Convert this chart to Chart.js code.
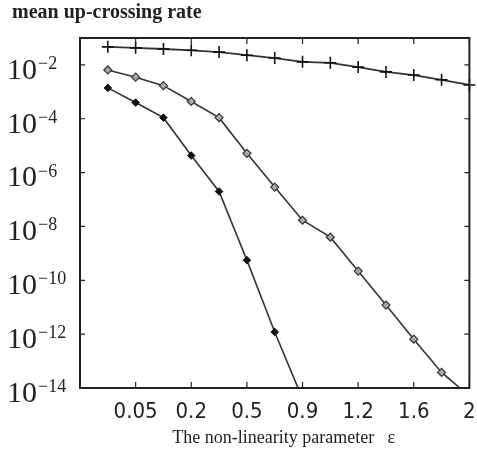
<!DOCTYPE html>
<html>
<head>
<meta charset="utf-8">
<script src="https://cdn.jsdelivr.net/npm/chart.js@4/dist/chart.umd.min.js"></script>
<style>
  html, body { margin: 0; padding: 0; background: #fff; }
  #wrap { width: 477px; height: 453px; }
</style>
</head>
<body>
<div id="wrap"><canvas id="rateChart"></canvas></div>
<script>
// x positions on the (unevenly labelled) epsilon axis, half a tick apart
const xSteps = [0.5, 1, 1.5, 2, 2.5, 3, 3.5, 4, 4.5, 5, 5.5, 6, 6.5, 7];
const xTickLabels = ["0.05", "0.2", "0.5", "0.9", "1.2", "1.6", "2"];
const yTickExponents = [-2, -4, -6, -8, -10, -12, -14];

// mean up-crossing rate
const rateCross = [4.7e-2, 4.3e-2, 3.9e-2, 3.5e-2, 3.0e-2, 2.3e-2, 1.8e-2,
  1.3e-2, 1.2e-2, 8.3e-3, 5.5e-3, 4.2e-3, 2.8e-3, 1.8e-3];
const rateOpen = [6.5e-3, 3.5e-3, 1.7e-3, 4.4e-4, 1.1e-4, 5.2e-6, 2.9e-7,
  1.7e-8, 4.0e-9, 2.2e-10, 1.2e-11, 6.5e-13, 3.8e-14, 5e-15];
const rateFilled = [1.4e-3, 4.0e-4, 1.1e-4, 4.3e-6, 2.0e-7, 5.6e-10, 1.2e-12, 4e-15];

const toPoints = vals => vals.map((v, i) => ({ x: xSteps[i], y: v }));

const ink = "#222";
const lineCol = "#333";
const serif = "'Liberation Serif', serif";

// box round the plot, small inward tick marks, and the exponents of the y labels
const frame = {
  id: "frame",
  afterDraw(chart) {
    const { ctx, chartArea: a, scales } = chart;
    ctx.save();
    ctx.strokeStyle = ink;
    ctx.lineWidth = 1.2;
    scales.x.ticks.forEach(t => {
      const px = scales.x.getPixelForValue(t.value);
      ctx.beginPath();
      ctx.moveTo(px, a.bottom); ctx.lineTo(px, a.bottom - 6);
      ctx.moveTo(px, a.top); ctx.lineTo(px, a.top + 6);
      ctx.stroke();
    });
    scales.y.ticks.forEach(t => {
      const py = scales.y.getPixelForValue(t.value);
      ctx.beginPath();
      ctx.moveTo(a.left, py); ctx.lineTo(a.left + 5, py);
      ctx.moveTo(a.right, py); ctx.lineTo(a.right - 5, py);
      ctx.stroke();
    });
    ctx.lineWidth = 2;
    ctx.strokeRect(a.left, a.top, a.right - a.left, a.bottom - a.top);

    // superscript exponent after each "10"
    ctx.fillStyle = ink;
    ctx.textAlign = "left";
    ctx.textBaseline = "alphabetic";
    ctx.font = "18px " + serif;
    const baseX = scales.y.left + 31;
    scales.y.ticks.forEach(t => {
      const py = scales.y.getPixelForValue(t.value);
      const e = Math.round(Math.log10(t.value));
      ctx.fillText("\u2212" + Math.abs(e), baseX, py + 4);
    });
    ctx.restore();
  }
};

new Chart(document.getElementById("rateChart").getContext("2d"), {
  type: "line",
  data: {
    datasets: [
      {
        data: toPoints(rateCross),
        borderColor: lineCol,
        borderWidth: 1.8,
        pointStyle: "cross",
        pointRadius: 6,
        pointBorderWidth: 1.6,
        pointBorderColor: "#111",
        clip: { left: 8, right: 8, top: 8, bottom: 0 },
      },
      {
        data: toPoints(rateOpen),
        borderColor: lineCol,
        borderWidth: 1.6,
        pointStyle: "rectRot",
        pointRadius: 4,
        pointBackgroundColor: "#a8a8a8",
        pointBorderColor: "#333",
        pointBorderWidth: 1.2,
        clip: { left: 8, right: 8, top: 8, bottom: 0 },
      },
      {
        data: toPoints(rateFilled),
        borderColor: lineCol,
        borderWidth: 1.6,
        pointStyle: "rectRot",
        pointRadius: 3.8,
        pointBackgroundColor: "#111",
        pointBorderColor: "#111",
        pointBorderWidth: 1,
        clip: { left: 8, right: 8, top: 8, bottom: 0 },
      },
    ],
  },
  options: {
    responsive: true,
    maintainAspectRatio: false,
    animation: false,
    events: [],
    layout: { padding: { left: 7, right: 5, top: 0, bottom: 0 } },
    elements: { line: { tension: 0 } },
    scales: {
      x: {
        type: "linear",
        min: 0,
        max: 7,
        afterBuildTicks: s => { s.ticks = xTickLabels.map((_, i) => ({ value: i + 1 })); },
        afterFit: s => { s.height = 65; s.paddingLeft = 0; s.paddingRight = 0; },
        grid: { drawOnChartArea: false, drawTicks: false },
        border: { display: false },
        ticks: {
          padding: 11,
          color: ink,
          font: { family: "'Liberation Sans Narrow', 'DejaVu Sans Condensed', sans-serif", size: 22 },
          callback: v => xTickLabels[v - 1],
        },
        title: {
          display: true,
          text: "\u2003The non-linearity parameter   \u03B5",
          color: ink,
          font: { family: serif, size: 18 },
          padding: { top: 0, bottom: 4 },
        },
      },
      y: {
        type: "logarithmic",
        min: 1e-14,
        max: 1e-1,
        afterBuildTicks: s => { s.ticks = yTickExponents.map(e => ({ value: Math.pow(10, e) })); },
        afterFit: s => { s.width = 73; s.paddingTop = 0; s.paddingBottom = 0; },
        grid: { drawOnChartArea: false, drawTicks: false },
        border: { display: false },
        ticks: {
          crossAlign: "far",
          padding: 8,
          labelOffset: 6,
          color: ink,
          font: { family: serif, size: 30 },
          callback: () => "10",
        },
      },
    },
    plugins: {
      legend: { display: false },
      tooltip: { enabled: false },
      title: {
        display: true,
        text: " mean up-crossing rate",
        align: "start",
        color: ink,
        font: { family: serif, size: 20, weight: "bold" },
        padding: { top: 1, bottom: 13 },
      },
    },
  },
  plugins: [frame],
});
</script>
</body>
</html>
